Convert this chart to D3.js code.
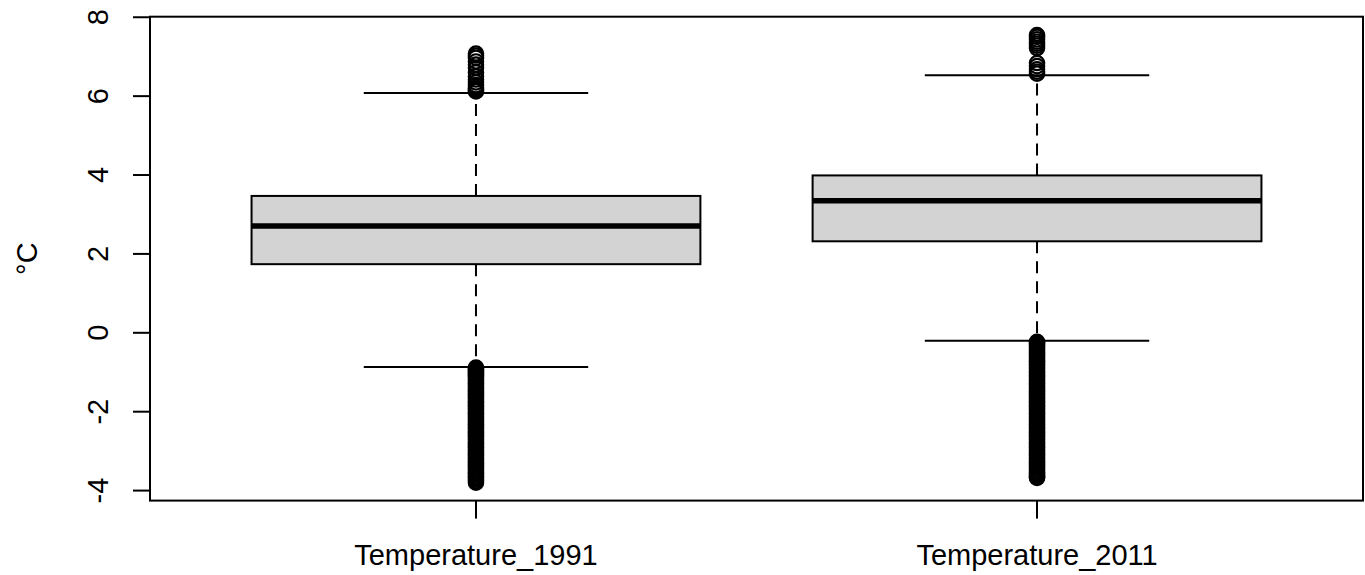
<!DOCTYPE html>
<html>
<head>
<meta charset="utf-8">
<script src="https://cdn.jsdelivr.net/npm/d3@7"></script>
<style>
  body { margin: 0; background: #fff; }
  text { font-family: "Liberation Sans", Arial, sans-serif; fill: #000; }
</style>
</head>
<body>
<div id="container"></div>
<script>
let categories = ['Temperature_1991', 'Temperature_2011'];
// boxplot stats: lower whisker, Q1, median, Q3, upper whisker
let lowWhisker = [-0.87, -0.2];
let q1 = [1.74, 2.32];
let medians = [2.71, 3.35];
let q3 = [3.47, 3.99];
let highWhisker = [6.08, 6.53];
let outliers1991 = [6.12, 6.15, 6.18, 6.22, 6.28, 6.35, 6.42, 6.5, 6.6, 6.72, 6.8, 6.88, 6.97, 7.03, 7.08,
  -0.88, -0.9, -0.93, -0.96, -0.99, -1.02, -1.05, -1.09, -1.12, -1.16, -1.2, -1.24, -1.28, -1.32, -1.36,
  -1.4, -1.44, -1.48, -1.52, -1.56, -1.6, -1.64, -1.68, -1.72, -1.76, -1.8, -1.84, -1.88, -1.92, -1.96,
  -2.0, -2.04, -2.08, -2.12, -2.16, -2.2, -2.24, -2.28, -2.32, -2.36, -2.4, -2.44, -2.48, -2.52, -2.56,
  -2.6, -2.64, -2.68, -2.72, -2.76, -2.8, -2.84, -2.88, -2.92, -2.96, -3.0, -3.04, -3.08, -3.12, -3.16,
  -3.2, -3.24, -3.28, -3.32, -3.36, -3.4, -3.44, -3.48, -3.52, -3.56, -3.6, -3.64, -3.68, -3.72, -3.76, -3.8];
let outliers2011 = [6.57, 6.62, 6.68, 6.76, 6.84, 7.22, 7.28, 7.33, 7.38, 7.44, 7.5, 7.55,
  -0.23, -0.26, -0.29, -0.32, -0.36, -0.4, -0.44, -0.48, -0.52, -0.56, -0.6, -0.64, -0.68, -0.72, -0.76,
  -0.8, -0.84, -0.88, -0.92, -0.96, -1.0, -1.04, -1.08, -1.12, -1.16, -1.2, -1.24, -1.28, -1.32, -1.36,
  -1.4, -1.44, -1.48, -1.52, -1.56, -1.6, -1.64, -1.68, -1.72, -1.76, -1.8, -1.84, -1.88, -1.92, -1.96,
  -2.0, -2.04, -2.08, -2.12, -2.16, -2.2, -2.24, -2.28, -2.32, -2.36, -2.4, -2.44, -2.48, -2.52, -2.56,
  -2.6, -2.64, -2.68, -2.72, -2.76, -2.8, -2.84, -2.88, -2.92, -2.96, -3.0, -3.04, -3.08, -3.12, -3.16,
  -3.2, -3.24, -3.28, -3.32, -3.36, -3.4, -3.44, -3.48, -3.52, -3.56, -3.6, -3.63, -3.66, -3.68];
let yTicks = [-4, -2, 0, 2, 4, 6, 8];
let yLabel = '\u00B0C';

let width = 1365;
let height = 575;
let plotLeft = 150, plotRight = 1363, plotTop = 16.7, plotBottom = 500.6;

let svg = d3.select('#container').append('svg')
    .attr('width', width).attr('height', height);

let xScale = d3.scaleLinear().domain([0.419, 2.581]).range([plotLeft, plotRight]);
let yScale = d3.scaleLinear().domain([-4.254, 8.014]).range([plotBottom, plotTop]);

let boxes = categories.map((c, i) => ({
    name: c, pos: i + 1,
    lo: lowWhisker[i], q1: q1[i], med: medians[i], q3: q3[i], hi: highWhisker[i],
    out: i == 0 ? outliers1991 : outliers2011
}));

let boxWidth = 0.8, capWidth = 0.4;

let groups = svg.selectAll('.box')
    .data(boxes).enter()
    .append('g').attr('class', 'box');

groups.each(function (d) {
    let g = d3.select(this);
    let cx = xScale(d.pos);
    // dashed whiskers
    g.append('line')
        .attr('x1', cx).attr('x2', cx)
        .attr('y1', yScale(d.q3)).attr('y2', yScale(d.hi))
        .attr('stroke', '#000').attr('stroke-width', 2)
        .attr('stroke-dasharray', '12,8');
    g.append('line')
        .attr('x1', cx).attr('x2', cx)
        .attr('y1', yScale(d.q1)).attr('y2', yScale(d.lo))
        .attr('stroke', '#000').attr('stroke-width', 2)
        .attr('stroke-dasharray', '12,8');
    // caps
    [d.lo, d.hi].forEach(v => {
        g.append('line')
            .attr('x1', xScale(d.pos - capWidth / 2)).attr('x2', xScale(d.pos + capWidth / 2))
            .attr('y1', yScale(v)).attr('y2', yScale(v))
            .attr('stroke', '#000').attr('stroke-width', 2);
    });
    // box
    g.append('rect')
        .attr('x', xScale(d.pos - boxWidth / 2))
        .attr('width', xScale(d.pos + boxWidth / 2) - xScale(d.pos - boxWidth / 2))
        .attr('y', yScale(d.q3))
        .attr('height', yScale(d.q1) - yScale(d.q3))
        .attr('fill', '#d3d3d3').attr('stroke', '#000').attr('stroke-width', 2);
    // median
    g.append('line')
        .attr('x1', xScale(d.pos - boxWidth / 2)).attr('x2', xScale(d.pos + boxWidth / 2))
        .attr('y1', yScale(d.med)).attr('y2', yScale(d.med))
        .attr('stroke', '#000').attr('stroke-width', 5.5);
    // outliers
    g.selectAll('circle').data(d.out).enter()
        .append('circle')
        .attr('cx', cx).attr('cy', v => yScale(v)).attr('r', 7.2)
        .attr('fill', 'none').attr('stroke', '#000').attr('stroke-width', 2.2);
});

// plot frame
svg.append('rect')
    .attr('x', plotLeft).attr('y', plotTop)
    .attr('width', plotRight - plotLeft).attr('height', plotBottom - plotTop)
    .attr('fill', 'none').attr('stroke', '#000').attr('stroke-width', 2);

// y axis (R style, rotated labels)
let yAxis = svg.append('g').attr('class', 'yAxis');
yAxis.append('line')
    .attr('x1', plotLeft).attr('x2', plotLeft)
    .attr('y1', yScale(yTicks[0])).attr('y2', yScale(yTicks[yTicks.length - 1]))
    .attr('stroke', '#000').attr('stroke-width', 2);
yTicks.forEach(t => {
    yAxis.append('line')
        .attr('x1', plotLeft - 17).attr('x2', plotLeft)
        .attr('y1', yScale(t)).attr('y2', yScale(t))
        .attr('stroke', '#000').attr('stroke-width', 2);
    yAxis.append('text')
        .attr('transform', 'translate(108,' + yScale(t) + ') rotate(-90)')
        .attr('text-anchor', 'middle')
        .style('font-size', '29px')
        .text(t);
});

// x axis
let xAxis = svg.append('g').attr('class', 'xAxis');
boxes.forEach(d => {
    xAxis.append('line')
        .attr('x1', xScale(d.pos)).attr('x2', xScale(d.pos))
        .attr('y1', plotBottom).attr('y2', plotBottom + 18)
        .attr('stroke', '#000').attr('stroke-width', 2);
    xAxis.append('text')
        .attr('x', xScale(d.pos)).attr('y', 565)
        .attr('text-anchor', 'middle')
        .style('font-size', '29px')
        .text(d.name);
});

svg.append('text')
    .attr('transform', 'translate(37,' + (plotTop + plotBottom) / 2 + ') rotate(-90)')
    .attr('text-anchor', 'middle')
    .style('font-size', '29px')
    .text(yLabel);
</script>
</body>
</html>
